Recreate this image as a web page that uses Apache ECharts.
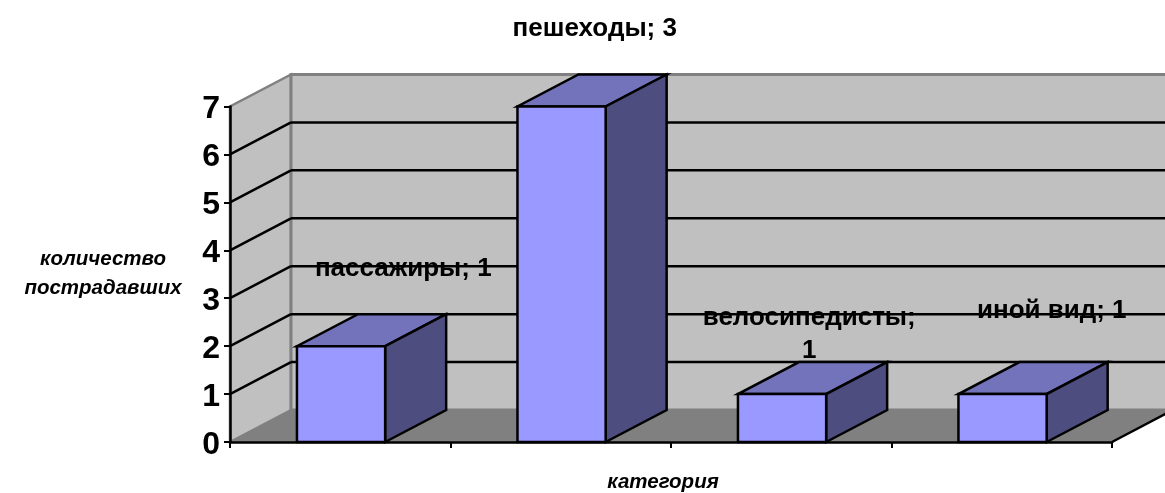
<!DOCTYPE html>
<html>
<head>
<meta charset="utf-8">
<style>html,body{margin:0;padding:0;background:#fff}#c{width:1165px;height:493px}</style>
<script src="https://cdn.jsdelivr.net/npm/echarts@6/dist/echarts.min.js"></script>
</head>
<body>
<div id="c"></div>
<script>
const categories = ['пассажиры', 'пешеходы', 'велосипедисты', 'иной вид'];
const barValues = [2, 7, 1, 1];
const labelValues = [1, 3, 1, 1];
const yTicks = [1, 2, 3, 4, 5, 6];

const DX = 61, DY = -32;
const BAR_SHIFT = 0.8;
const FONT = 'Arial, "Liberation Sans", sans-serif';
const labelTexts = categories.map((c, i) => c === 'велосипедисты'
  ? c + ';\n' + labelValues[i] : c + '; ' + labelValues[i]);
const labelOffsets = [[63, -77], [34, -77.5], [28, -60], [50, -83]];

const chart = echarts.init(document.getElementById('c'), null, {renderer: 'canvas'});

function poly(points, fill, stroke, lw) {
  return {type: 'polygon', shape: {points}, style: {fill, stroke, lineWidth: lw, lineJoin: 'miter'}};
}
function seg(a, b, stroke, lw) {
  return {type: 'line', shape: {x1: a[0], y1: a[1], x2: b[0], y2: b[1]}, style: {stroke, lineWidth: lw}};
}

function renderScene(params, api) {
  if (params.dataIndex !== 0) return;
  const halfBand = api.size([1, 0])[0] / 2;
  const at = (c, v) => api.coord([c, v]);
  const L = at(0, 0)[0] - halfBand, R = at(categories.length - 1, 0)[0] + halfBand;
  const y0 = at(0, 0)[1], y7 = at(0, 7)[1];
  const back = p => [p[0] + DX, p[1] + DY];
  const children = [
    poly([[L, y0], back([L, y0]), back([L, y7]), [L, y7]], '#c0c0c0', '#808080', 2.5),
    poly([back([L, y0]), back([R, y0]), back([R, y7]), back([L, y7])], '#c0c0c0', '#808080', 3),
    poly([[L, y0], [R, y0], back([R, y0]), back([L, y0])], '#808080', '#808080', 1)
  ];
  yTicks.forEach(v => {
    const y = at(0, v)[1];
    children.push(seg([L, y], back([L, y]), '#000', 2.5));
    children.push(seg(back([L, y]), back([R, y]), '#000', 2.5));
  });
  children.push(seg([R, y0], back([R, y0]), '#000', 2.5));
  return {type: 'group', children, silent: true};
}

function renderBar(params, api) {
  const i = api.value(0), v = api.value(1);
  const w = api.size([1, 0])[0] * 0.4;
  const base = api.coord([i, 0]), top = api.coord([i, v]);
  const l = base[0] + BAR_SHIFT - w / 2, r = base[0] + BAR_SHIFT + w / 2, b = base[1], t = top[1];
  return {type: 'group', children: [
    poly([[l, t], [r, t], [r + DX, t + DY], [l + DX, t + DY]], '#7373bb', '#000', 2.5),
    poly([[r, b], [r + DX, b + DY], [r + DX, t + DY], [r, t]], '#4d4d80', '#000', 2.5),
    poly([[l, b], [r, b], [r, t], [l, t]], '#9999ff', '#000', 2.5)
  ]};
}

function renderLabel(params, api) {
  const i = api.value(0), v = api.value(1);
  const p = api.coord([i, v]);
  const o = labelOffsets[i];
  return {type: 'text', z2: 100, style: {
    text: labelTexts[i], x: p[0] + o[0], y: p[1] + o[1],
    textAlign: 'center', textVerticalAlign: 'middle',
    font: 'bold 26px ' + FONT, lineHeight: 33, fill: '#000'
  }};
}

chart.setOption({
  animation: false,
  backgroundColor: '#ffffff',
  grid: {left: 230, right: 53, top: 106.5, bottom: 51, containLabel: false, outerBoundsMode: 'none'},
  xAxis: {
    type: 'category', data: categories, z: 10,
    axisLine: {lineStyle: {color: '#000', width: 2.5}},
    axisTick: {show: true, length: 6, alignWithLabel: false, lineStyle: {color: '#000', width: 2}},
    axisLabel: {show: false},
    splitLine: {show: false},
    name: 'категория', nameLocation: 'middle', nameGap: 30,
    nameTextStyle: {fontFamily: FONT, fontSize: 20.5, fontWeight: 'bold', fontStyle: 'italic', color: '#000', padding: [0, 16, 0, 0]}
  },
  yAxis: {
    type: 'value', min: 0, max: 7, interval: 1, z: 10,
    axisLine: {show: true, lineStyle: {color: '#000', width: 2.5}},
    axisTick: {show: true, length: 6, lineStyle: {color: '#000', width: 2}},
    axisLabel: {fontFamily: FONT, fontSize: 32, fontWeight: 'bold', color: '#000', margin: 10, formatter: '{n|{value}}',
      rich: {n: {fontFamily: FONT, fontSize: 32, fontWeight: 'bold', color: '#000', padding: [6, 0, 0, 0]}}},
    splitLine: {show: false},
    name: 'количество\nпострадавших', nameLocation: 'middle', nameGap: 127, nameRotate: 0, nameMoveOverlap: false,
    nameTextStyle: {fontFamily: FONT, fontSize: 20.5, fontWeight: 'bold', fontStyle: 'italic', color: '#000', lineHeight: 29, align: 'center'}
  },
  series: [
    {type: 'custom', z: 1, clip: false, silent: true, renderItem: renderScene, data: yTicks.map(v => [0, v]), encode: {x: 0, y: 1}},
    {type: 'custom', z: 3, clip: false, silent: true, renderItem: renderBar, data: barValues.map((v, i) => [i, v]), encode: {x: 0, y: 1}},
    {type: 'custom', z: 20, clip: false, silent: true, renderItem: renderLabel, data: barValues.map((v, i) => [i, v]), encode: {x: 0, y: 1}}
  ]
});
</script>
</body>
</html>
